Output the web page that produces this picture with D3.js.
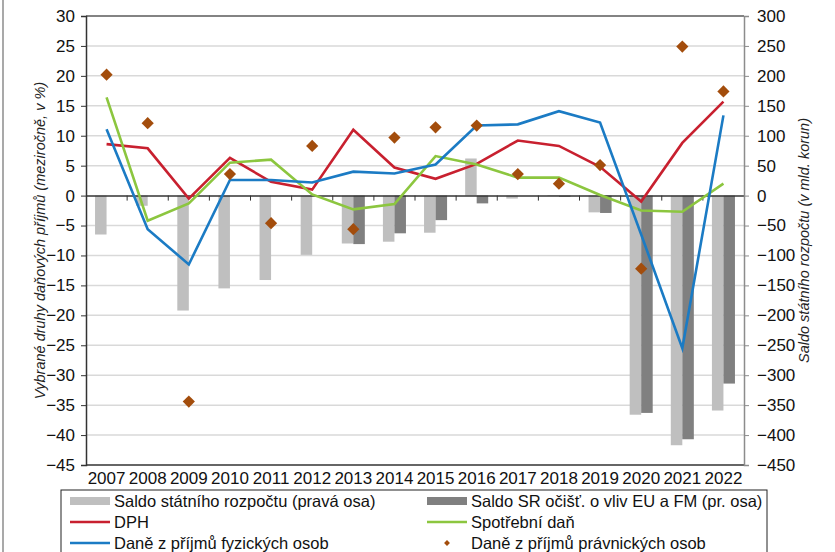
<!DOCTYPE html>
<html><head><meta charset="utf-8">
<script src="https://cdn.jsdelivr.net/npm/d3@7"></script>
<style>
body{margin:0;background:#fff;}
svg{display:block;font-family:Arial,"Liberation Sans",sans-serif;}
</style></head>
<body><svg id="c" width="835" height="552"></svg>
<script>
const years = ["2007","2008","2009","2010","2011","2012","2013","2014","2015","2016","2017","2018","2019","2020","2021","2022"];
const saldo = [-65,-17,-192,-155,-141,-99,-80,-77,-62,62,-5,1,-28,-366,-417,-359];
const saldoAdj = [null,null,null,null,null,null,-81,-63,-41,-13,0,-2,-29,-363,-407,-314];
const dph = [8.6,7.9,-0.5,6.3,2.3,1.0,11.0,4.7,2.8,5.3,9.2,8.3,4.8,-1.0,8.8,15.7];
const spotrebni = [16.4,-4.2,-1.3,5.5,6.0,0.2,-2.3,-1.4,6.6,5.2,3.0,3.0,0.1,-2.5,-2.7,2.0];
const dfo = [11.1,-5.6,-11.5,2.6,2.6,2.2,4.0,3.7,5.2,11.7,11.9,14.1,12.2,-6.5,-25.5,13.4];
const dpo = [20.2,12.1,-34.4,3.6,-4.6,8.3,-5.6,9.7,11.4,11.7,3.6,2.0,5.1,-12.2,24.9,17.4];
const leftTicks = d3.range(-45,31,5);
const rightTicks = d3.range(-450,301,50);
const labels = {
  saldo:"Saldo státního rozpočtu (pravá osa)",
  saldoAdj:"Saldo SR očišť. o vliv EU a FM (pr. osa)",
  dph:"DPH",
  spotrebni:"Spotřební daň",
  dfo:"Daně z příjmů fyzických osob",
  dpo:"Daně z příjmů právnických osob",
  yLeft:"Vybrané druhy daňových příjmů (meziročně, v %)",
  yRight:"Saldo státního rozpočtu (v mld. korun)"
};

const svg = d3.select("#c");
const L=86, R=744, T=16, B=465;
const x = d3.scaleBand().domain(years).range([L,R]).padding(0);
const yL = d3.scaleLinear().domain([-45,30]).range([B,T]);
const yR = d3.scaleLinear().domain([-450,300]).range([B,T]);
const cx = d => x(d)+x.bandwidth()/2;

// outer left frame
svg.append("line").attr("x1",3).attr("x2",3).attr("y1",0).attr("y2",552).attr("stroke","#8c8c8c").attr("stroke-width",1.5);

// gridlines
svg.append("g").selectAll("line").data(leftTicks.filter(t=>t!==0 && t!==-45 && t!==30)).join("line")
  .attr("x1",L).attr("x2",R).attr("y1",d=>yL(d)).attr("y2",d=>yL(d))
  .attr("stroke","#d9d9d9").attr("stroke-width",1.5);

// bars
const bw = x.bandwidth()*0.28;
svg.append("g").selectAll("rect").data(years.map((y,i)=>({y,v:saldo[i]}))).join("rect")
  .attr("x",d=>cx(d.y)-bw).attr("width",bw)
  .attr("y",d=>Math.min(yR(d.v),yR(0))).attr("height",d=>Math.abs(yR(d.v)-yR(0)))
  .attr("fill","#bfbfbf");
svg.append("g").selectAll("rect").data(years.map((y,i)=>({y,v:saldoAdj[i]})).filter(d=>d.v!==null)).join("rect")
  .attr("x",d=>cx(d.y)).attr("width",bw)
  .attr("y",d=>Math.min(yR(d.v),yR(0))).attr("height",d=>Math.abs(yR(d.v)-yR(0)))
  .attr("fill","#808080");

// top border & zero line & bottom
svg.append("line").attr("x1",L).attr("x2",R).attr("y1",T).attr("y2",T).attr("stroke","#5a5a5a").attr("stroke-width",1.5);
svg.append("line").attr("x1",L).attr("x2",R).attr("y1",B).attr("y2",B).attr("stroke","#333").attr("stroke-width",1.5);

// x axis on zero line
const xAxis = d3.axisBottom(x).tickSize(0).tickFormat("");
svg.append("g").attr("transform",`translate(0,${yL(0)})`).call(xAxis)
  .call(g=>g.select(".domain").attr("stroke","#333").attr("stroke-width",1.5));
svg.append("g").selectAll("line").data(years.slice(1)).join("line")
  .attr("x1",d=>x(d)).attr("x2",d=>x(d)).attr("y1",yL(0)).attr("y2",yL(0)+5)
  .attr("stroke","#333").attr("stroke-width",1);

// year labels
svg.append("g").selectAll("text").data(years).join("text")
  .attr("x",d=>cx(d)).attr("y",484).attr("text-anchor","middle")
  .attr("font-size",17).attr("fill","#111").text(d=>d);

// left axis
const gl = svg.append("g").attr("transform",`translate(${L},0)`)
  .call(d3.axisLeft(yL).tickValues(leftTicks).tickSize(5).tickPadding(6));
gl.select(".domain").attr("stroke","#333").attr("stroke-width",1.5);
gl.selectAll(".tick line").attr("stroke","#333");
gl.selectAll("text").attr("font-size",17).attr("fill","#111").attr("font-family","Arial,'Liberation Sans',sans-serif");

// right axis
const gr = svg.append("g").attr("transform",`translate(${R},0)`)
  .call(d3.axisRight(yR).tickValues(rightTicks).tickSize(5).tickPadding(8));
gr.select(".domain").attr("stroke","#8c8c8c").attr("stroke-width",1.5);
gr.selectAll(".tick line").attr("stroke","#8c8c8c");
gr.selectAll("text").attr("font-size",17).attr("fill","#111").attr("font-family","Arial,'Liberation Sans',sans-serif");

// axis titles
svg.append("text").attr("transform",`translate(45,${(T+B)/2}) rotate(-90)`).attr("text-anchor","middle")
  .attr("font-size",14.5).attr("font-style","italic").attr("fill","#222").text(labels.yLeft);
svg.append("text").attr("transform",`translate(809,${(T+B)/2}) rotate(-90)`).attr("text-anchor","middle")
  .attr("font-size",14.5).attr("font-style","italic").attr("fill","#222").text(labels.yRight);

// lines
const line = d3.line().x((d,i)=>cx(years[i])).y(d=>yL(d));
[[dph,"#c8202f"],[spotrebni,"#8cc63f"],[dfo,"#1b7bc4"]].forEach(([arr,c])=>{
  svg.append("path").datum(arr).attr("d",line).attr("fill","none").attr("stroke",c).attr("stroke-width",2.6).attr("stroke-linejoin","miter");
});

// diamonds
const diam = d3.symbol().type(d3.symbolDiamond2).size(95);
svg.append("g").selectAll("path").data(dpo).join("path")
  .attr("transform",(d,i)=>`translate(${cx(years[i])},${yL(d)})`)
  .attr("d",diam).attr("fill","#a34d0c");

// legend
const lg = svg.append("g");
lg.append("rect").attr("x",61).attr("y",490).attr("width",706).attr("height",70).attr("fill","#fff").attr("stroke","#222").attr("stroke-width",1);
const items = [
  {k:"saldo",col:0,row:0,type:"bar",c:"#bfbfbf"},
  {k:"saldoAdj",col:1,row:0,type:"bar",c:"#808080"},
  {k:"dph",col:0,row:1,type:"line",c:"#c8202f"},
  {k:"spotrebni",col:1,row:1,type:"line",c:"#8cc63f"},
  {k:"dfo",col:0,row:2,type:"line",c:"#1b7bc4"},
  {k:"dpo",col:1,row:2,type:"dot",c:"#a34d0c"}
];
const colX=[70,427], rowY=[501,522,543];
items.forEach(it=>{
  const x0=colX[it.col], yy=rowY[it.row];
  if(it.type==="bar") lg.append("rect").attr("x",x0).attr("y",yy-4).attr("width",40).attr("height",8).attr("fill",it.c);
  else if(it.type==="line") lg.append("line").attr("x1",x0).attr("x2",x0+40).attr("y1",yy).attr("y2",yy).attr("stroke",it.c).attr("stroke-width",2.6);
  else lg.append("path").attr("transform",`translate(${x0+20},${yy})`).attr("d",d3.symbol().type(d3.symbolDiamond2).size(22)).attr("fill",it.c);
  lg.append("text").attr("x",x0+44).attr("y",yy).attr("dy","0.35em").attr("font-size",16.5).attr("fill","#111").text(labels[it.k]);
});
</script></body></html>
